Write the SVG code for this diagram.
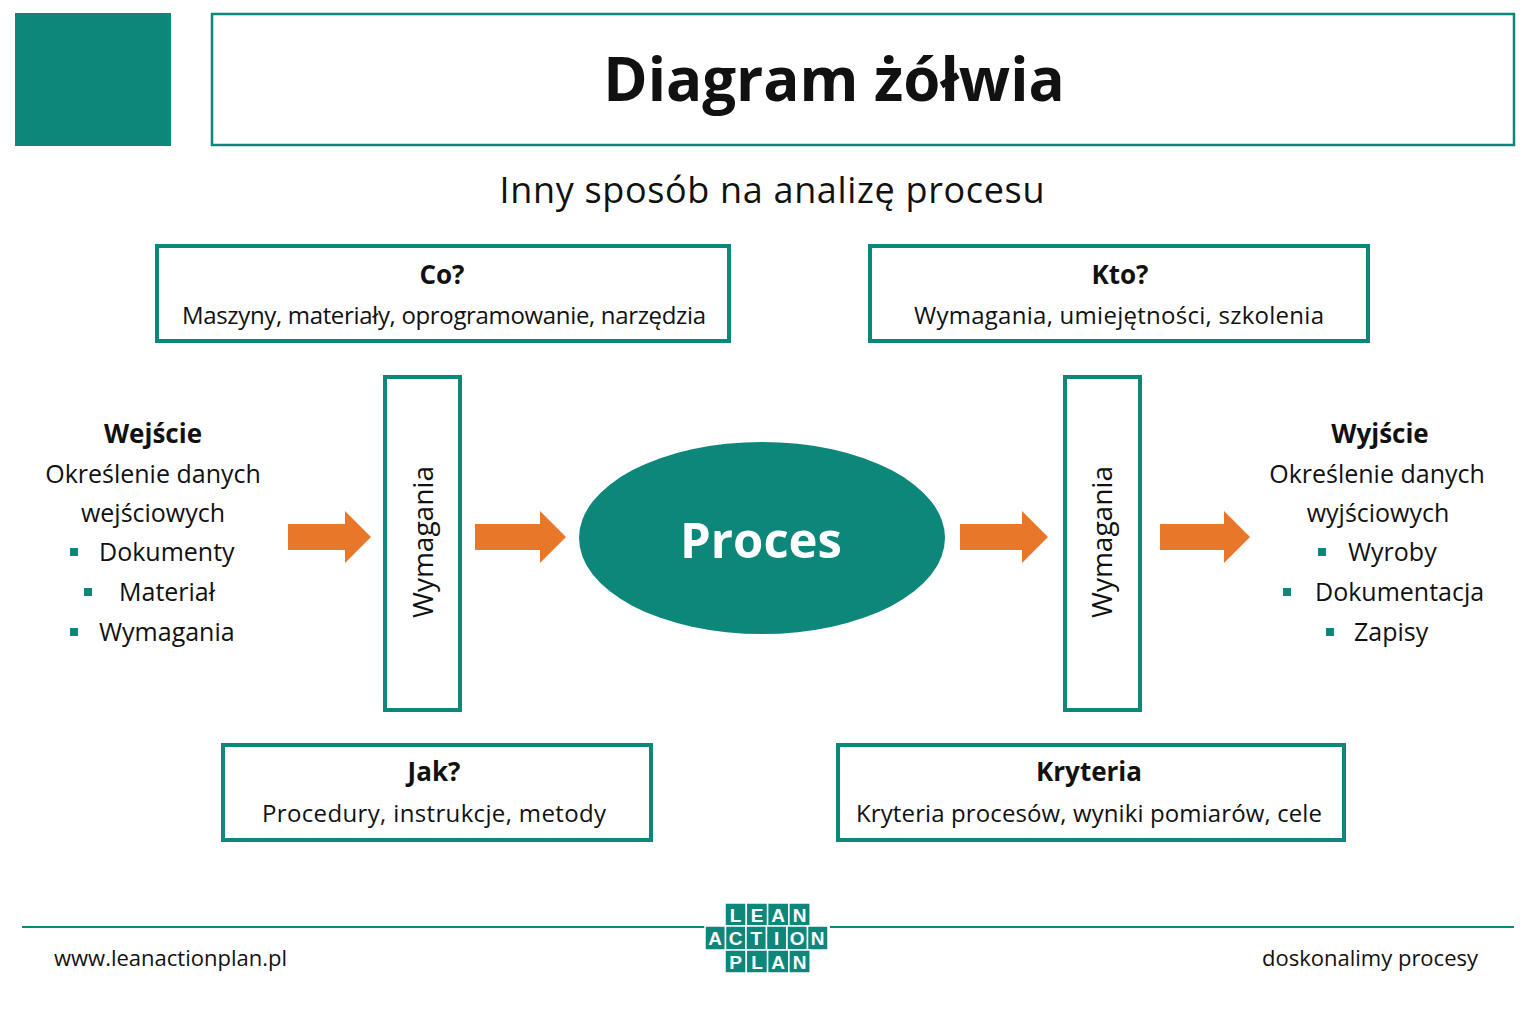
<svg xmlns="http://www.w3.org/2000/svg" width="1536" height="1024" viewBox="0 0 1536 1024">
<style>
text{font-family:"Open Sans","Noto Sans","DejaVu Sans",sans-serif;fill:#111}
.box{fill:#fff;stroke:#0e877b;stroke-width:4}
.t{font-size:25px;text-anchor:middle}
.w{font-size:28px;text-anchor:middle}
.b{font-size:26px;font-weight:bold;text-anchor:middle}
.s{font-size:24px;text-anchor:middle}
.bul{fill:#0e877b}
.arr{fill:#e8772a}
.lg rect{fill:#0e877b;stroke:#fff;stroke-width:1.5}
.lg text{fill:#fff;font-size:19px;font-weight:bold;text-anchor:middle;font-family:"Liberation Sans",sans-serif}
</style>
<rect width="1536" height="1024" fill="#fff"/>
<g id="header">
<rect x="15" y="13" width="156" height="133" fill="#0e877b"/>
<rect x="212" y="14" width="1302" height="131" fill="#fff" stroke="#0e877b" stroke-width="2.5"/>
<text x="834" y="101" style="font-size:60px;font-weight:bold;text-anchor:middle">Diagram żółwia</text>
<text x="772" y="203" style="font-size:36px;text-anchor:middle" textLength="545">Inny sposób na analizę procesu</text>
</g>
<g id="co"><rect class="box" x="157" y="246" width="572" height="95"/>
<text class="b" x="442" y="284">Co?</text><text class="s" x="444" y="324" textLength="524">Maszyny, materiały, oprogramowanie, narzędzia</text></g>
<g id="kto"><rect class="box" x="870" y="246" width="498" height="95"/>
<text class="b" x="1120" y="284">Kto?</text><text class="s" x="1119" y="324" textLength="410">Wymagania, umiejętności, szkolenia</text></g>
<g id="jak"><rect class="box" x="223" y="745" width="428" height="95"/>
<text class="b" x="434" y="781">Jak?</text><text class="s" x="434" y="822" textLength="344">Procedury, instrukcje, metody</text></g>
<g id="kryteria"><rect class="box" x="838" y="745" width="506" height="95"/>
<text class="b" x="1089" y="781">Kryteria</text><text class="s" x="1089" y="822" textLength="466">Kryteria procesów, wyniki pomiarów, cele</text></g>
<g id="wym1"><rect class="box" x="385" y="377" width="75" height="333"/>
<text class="w" transform="translate(433,542) rotate(-90)">Wymagania</text></g>
<g id="wym2"><rect class="box" x="1065" y="377" width="75" height="333"/>
<text class="w" transform="translate(1112,542) rotate(-90)">Wymagania</text></g>
<g id="proces"><ellipse cx="762" cy="538" rx="183" ry="96" fill="#0e877b"/>
<text x="761" y="558" style="font-size:49px;font-weight:bold;text-anchor:middle;fill:#fff">Proces</text></g>
<g id="wejscie">
<text class="b" x="153" y="443">Wejście</text>
<text class="t" x="153" y="483">Określenie danych</text>
<text class="t" x="153" y="522">wejściowych</text>
<rect class="bul" x="70" y="548" width="8" height="8"/><text x="99" y="561" style="font-size:25px">Dokumenty</text>
<rect class="bul" x="84" y="588" width="8" height="8"/><text x="119" y="601" style="font-size:25px">Materiał</text>
<rect class="bul" x="70" y="628" width="8" height="8"/><text x="99" y="641" style="font-size:25px">Wymagania</text>
</g>
<g id="wyjscie">
<text class="b" x="1380" y="443">Wyjście</text>
<text class="t" x="1377" y="483">Określenie danych</text>
<text class="t" x="1378" y="522">wyjściowych</text>
<rect class="bul" x="1318" y="548" width="8" height="8"/><text x="1348" y="561" style="font-size:25px">Wyroby</text>
<rect class="bul" x="1283" y="588" width="8" height="8"/><text x="1315" y="601" style="font-size:25px">Dokumentacja</text>
<rect class="bul" x="1326" y="628" width="8" height="8"/><text x="1354" y="641" style="font-size:25px">Zapisy</text>
</g>
<g id="connectors">
<polygon class="arr" points="288,524 345,524 345,511 371,537 345,563 345,550 288,550"/>
<polygon class="arr" points="475,524 540,524 540,511 566,537 540,563 540,550 475,550"/>
<polygon class="arr" points="960,524 1022,524 1022,511 1048,537 1022,563 1022,550 960,550"/>
<polygon class="arr" points="1160,524 1224,524 1224,511 1250,537 1224,563 1224,550 1160,550"/>
</g>
<g id="footer">
<line x1="22" y1="927" x2="706" y2="927" stroke="#0e877b" stroke-width="2"/>
<line x1="830" y1="927" x2="1514" y2="927" stroke="#0e877b" stroke-width="2"/>
<text x="54" y="966" style="font-size:22px">www.leanactionplan.pl</text>
<text x="1478" y="966" style="font-size:22px;text-anchor:end">doskonalimy procesy</text>
<g class="lg">
<rect x="725" y="903" width="21.3" height="23"/><rect x="746.3" y="903" width="21.3" height="23"/><rect x="767.6" y="903" width="21.3" height="23"/><rect x="788.9" y="903" width="21.3" height="23"/>
<text x="735.6" y="922">L</text><text x="757" y="922">E</text><text x="778.2" y="922">A</text><text x="799.5" y="922">N</text>
<rect x="705" y="926" width="20.5" height="24"/><rect x="725.5" y="926" width="20.5" height="24"/><rect x="746" y="926" width="20.5" height="24"/><rect x="766.5" y="926" width="20.5" height="24"/><rect x="787" y="926" width="20.5" height="24"/><rect x="807.5" y="926" width="20.5" height="24"/>
<text x="715.2" y="945">A</text><text x="735.7" y="945">C</text><text x="756.2" y="945">T</text><text x="776.7" y="945">I</text><text x="797.2" y="945">O</text><text x="817.7" y="945">N</text>
<rect x="725" y="950" width="21.3" height="23"/><rect x="746.3" y="950" width="21.3" height="23"/><rect x="767.6" y="950" width="21.3" height="23"/><rect x="788.9" y="950" width="21.3" height="23"/>
<text x="735.6" y="969">P</text><text x="757" y="969">L</text><text x="778.2" y="969">A</text><text x="799.5" y="969">N</text>
</g>
</g>
</svg>
